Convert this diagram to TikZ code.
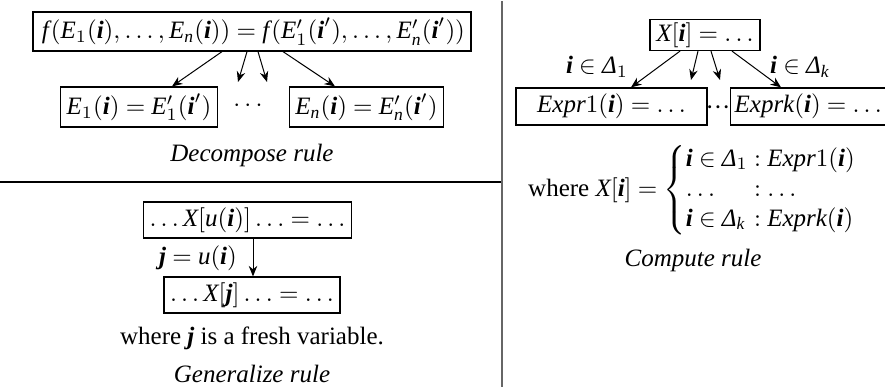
\documentclass[tikz,border=0pt]{standalone}
\usepackage{amsmath}
\usepackage{fontspec}
\setmainfont{Liberation Serif}
\newfontfamily\tlfam{Liberation Serif}[NFSSFamily=tlserif]
\DeclareSymbolFont{tletters}{TU}{tlserif}{m}{it}
\makeatletter
\count@=`A \loop\ifnum\count@<`[ \Umathcode\count@="7 \symtletters \count@ \advance\count@ 1 \repeat
\count@=`a \loop\ifnum\count@<`\{ \Umathcode\count@="7 \symtletters \count@ \advance\count@ 1 \repeat
\makeatother
\Umathchardef\Dl="7 \symtletters "394
\usetikzlibrary{arrows.meta,calc}
\newcommand{\bi}{\text{\bfseries\itshape i}}
\newcommand{\bj}{\text{\bfseries\itshape j}}
\newcommand{\ff}{f\mkern1.5mu}
\tikzset{
  rbox/.style={draw, line width=0.5pt, inner xsep=2.4pt, inner ysep=0pt, font=\fontsize{10}{12}\selectfont},
  lbl/.style={inner sep=0pt, font=\fontsize{10}{12}\selectfont},
  arr/.style={-{Stealth[length=4.2pt,width=3.4pt]}, line width=0.4pt},
  sepline/.style={line width=0.5pt}
}
\thickmuskip=4.5mu plus 2mu minus 1mu
\begin{document}
\begin{tikzpicture}[x=0.4pt,y=-0.4pt]
\useasboundingbox (0,0) rectangle (885,387);
% separators
\coordinate (vt) at (502,1);
\coordinate (vb) at (502,387);
\coordinate (hl) at (0,182);
\coordinate (hr) at (502,182);
\draw[sepline] (hl) -- (hr);
\draw[gray!80!black, line width=0.8pt] (vt) -- (vb);
% Decompose rule
\node[rbox, minimum width=164pt, minimum height=15.6pt] (dtop) at (252,31.5)
  {$\mkern2mu\ff(E_1(\bi),\ldots,E_n(\bi)) = \ff(E'_1(\bi'),\ldots,E'_n(\bi'))$};
\node[rbox, minimum width=59.2pt, minimum height=16pt] (dl) at (139,107)
  {$E_1(\bi) = E'_1(\bi')$};
\node[rbox, minimum width=59.6pt, minimum height=16pt] (dr) at (366.5,107)
  {$E_n(\bi) = E'_n(\bi')$};
\node[lbl] (ddots) at (250,106) {$\cdots$};
\coordinate (dm1) at (238,82);
\coordinate (dm2) at (267,82);
\draw[arr] ([xshift=-12pt]dtop.south) -- ([xshift=13.2pt]dl.north);
\draw[arr] ([xshift=-2pt]dtop.south) -- (dm1);
\draw[arr] ([xshift=2.4pt]dtop.south) -- (dm2);
\draw[arr] ([xshift=12.4pt]dtop.south) -- ([xshift=-12.6pt]dr.north);
\node[lbl] (dcap) at (252,155) {\textit{Decompose rule}};
% Generalize rule
\node[rbox, minimum width=75.6pt, minimum height=14.4pt] (g1) at (247.5,220)
  {$\ldots X[u(\bi)]\ldots = \ldots$};
\node[rbox, minimum width=68.8pt, minimum height=14.4pt] (g2) at (252,295)
  {$\ldots X[\bj]\ldots = \ldots$};
\draw[arr] ([xshift=0.4pt]g2.north |- g1.south) -- ([xshift=0.4pt]g2.north);
\node[lbl] (glab) at (198,258) {$\bj = u(\bi)$};
\node[lbl] (gwhere) at (252,338) {where $\bj$ is a fresh variable.};
\node[lbl] (gcap) at (252,374) {\textit{Generalize rule}};
% Compute rule
\node[rbox, minimum width=44pt, minimum height=12.4pt] (ctop) at (705,35)
  {$X[\bi] = \ldots$};
\node[rbox, minimum width=76.4pt, minimum height=14.8pt] (cl) at (611.5,106.5)
  {$Expr1(\bi) = \ldots$};
\node[rbox, minimum height=14.8pt, inner xsep=1.6pt, anchor=west] (cr) at (730,106.5)
  {$Exprk(\bi) = \ldots$\hspace{8pt}};
\node[lbl] (cdots) at (718,111) {···};
\coordinate (cm1) at (691,80);
\coordinate (cm2) at (720,80);
\coordinate (crn) at (781,88.5);
\draw[arr] ([xshift=-10pt]ctop.south) -- ([xshift=7.8pt]cl.north);
\draw[arr] ([xshift=-2.8pt]ctop.south) -- (cm1);
\draw[arr] ([xshift=2.4pt]ctop.south) -- (cm2);
\draw[arr] ([xshift=10.8pt]ctop.south) -- (cr.north -| crn);
\node[lbl] (cl1) at (597,67) {$\bi \in \Dl_1$};
\node[lbl] (clk) at (800,67) {$\bi \in \Dl_k$};
\node[lbl] (cwhere) at (693,190)
  {where $X[\bi] = \left\{\begin{array}{@{}l@{\;}l@{}}
     \bi \in \Dl_1 & : Expr1(\bi)\\
     \ldots & : \ldots\\
     \bi \in \Dl_k & : Exprk(\bi)
   \end{array}\right.$};
\node[lbl] (ccap) at (693,260) {\textit{Compute rule}};
\end{tikzpicture}
\end{document}
